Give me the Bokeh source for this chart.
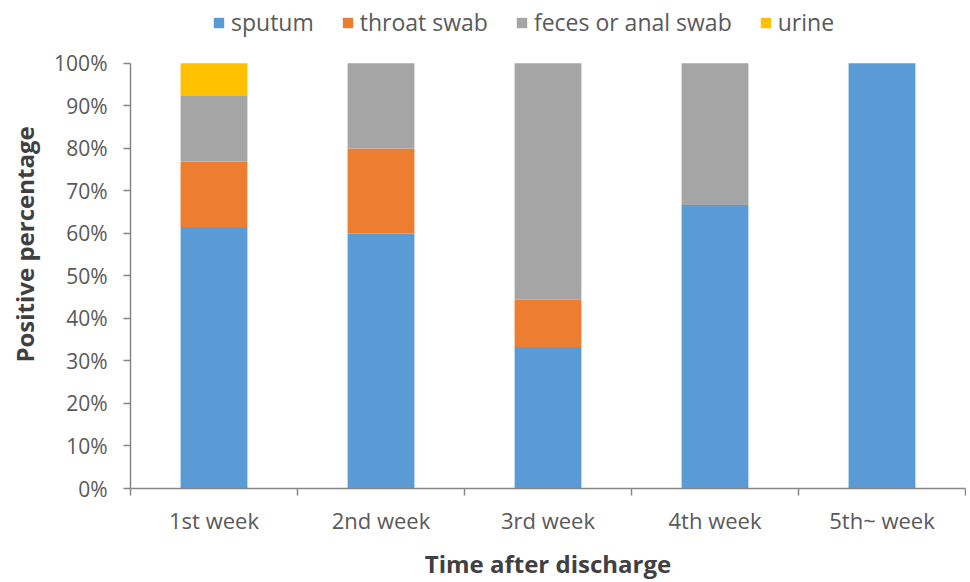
from bokeh.plotting import figure
from bokeh.models import (Range1d, FixedTicker, PrintfTickFormatter, Legend, LegendItem,
                          LinearAxis)
from bokeh.embed import file_html
from bokeh.resources import INLINE

weeks = ["1st week", "2nd week", "3rd week", "4th week", "5th~ week"]
series = ["sputum", "throat swab", "feces or anal swab", "urine"]
sputum = [61.5, 60.0, 33.3, 66.7, 100.0]
throat_swab = [15.4, 20.0, 11.1, 0.0, 0.0]
feces_or_anal_swab = [15.4, 20.0, 55.6, 33.3, 0.0]
urine = [7.7, 0.0, 0.0, 0.0, 0.0]
colors = ["#5B9BD5", "#ED7D31", "#A5A5A5", "#FFC000"]
y_ticks = [0, 10, 20, 30, 40, 50, 60, 70, 80, 90, 100]

FONT = "Open Sans"
TXT = "#595959"
AX = "#868686"

n = len(weeks)
xc = [i + 0.5 for i in range(n)]
data = dict(x=xc, sputum=sputum, throat=throat_swab, feces=feces_or_anal_swab, urine=urine)

H = 582
BOTTOM = 93
FRAME_H = H - BOTTOM
TOP_PX = 63          # pixel row of 100%
y_max = 100 * FRAME_H / (FRAME_H - TOP_PX)   # head-room for the legend inside the frame

p = figure(width=966, height=H, output_backend="svg", toolbar_location=None,
           x_range=Range1d(0, n), y_range=Range1d(0, y_max),
           min_border_left=130, min_border_right=1, min_border_top=0, min_border_bottom=BOTTOM,
           x_axis_type=None)
p.outline_line_color = None
p.grid.visible = False

rs = p.vbar_stack(["sputum", "throat", "feces", "urine"], x="x", width=0.4,
                  color=colors, line_color=None, source=data)

# x axis: labels at bar centres, tick marks at category boundaries
xa = LinearAxis(ticker=FixedTicker(ticks=xc, minor_ticks=list(range(n + 1))))
xa.major_label_overrides = {x: w for x, w in zip(xc, weeks)}
xa.major_tick_line_color = None
xa.major_tick_out = 0
xa.major_tick_in = 0
xa.minor_tick_out = 7
xa.minor_tick_in = 0
xa.minor_tick_line_color = AX
xa.minor_tick_line_width = 1.5
xa.axis_line_color = AX
xa.axis_line_width = 1.5
xa.major_label_standoff = 9
xa.major_label_text_font = FONT
xa.major_label_text_font_size = "22px"
xa.major_label_text_color = TXT
xa.axis_label = "Time after discharge"
xa.axis_label_text_font = FONT
xa.axis_label_text_font_size = "24px"
xa.axis_label_text_font_style = "bold"
xa.axis_label_text_color = "#404040"
xa.axis_label_standoff = 9
p.add_layout(xa, "below")

ya = p.yaxis[0]
ya.ticker = FixedTicker(ticks=y_ticks, minor_ticks=[])
ya.bounds = (0, 100)
ya.formatter = PrintfTickFormatter(format="%d%%")
ya.major_tick_out = 7
ya.major_tick_in = 0
ya.major_tick_line_color = AX
ya.major_tick_line_width = 1.5
ya.axis_line_color = AX
ya.axis_line_width = 1.5
ya.major_label_standoff = 16
ya.major_label_text_font = FONT
ya.major_label_text_font_size = "21px"
ya.major_label_text_color = TXT
ya.axis_label = "Positive percentage"
ya.axis_label_text_font = FONT
ya.axis_label_text_font_size = "24px"
ya.axis_label_text_font_style = "bold"
ya.axis_label_text_color = "#404040"
ya.axis_label_standoff = 10

legend = Legend(items=[LegendItem(label=s, renderers=[r]) for s, r in zip(series, rs)],
                orientation="horizontal", location=(82, FRAME_H - 39),
                glyph_width=13, glyph_height=13, label_standoff=6, spacing=27,
                padding=0, margin=0, border_line_color=None, background_fill_alpha=0,
                label_text_font=FONT, label_text_font_size="23px", label_text_color=TXT)
p.add_layout(legend, "center")

open("out.html", "w").write(file_html(p, INLINE))
